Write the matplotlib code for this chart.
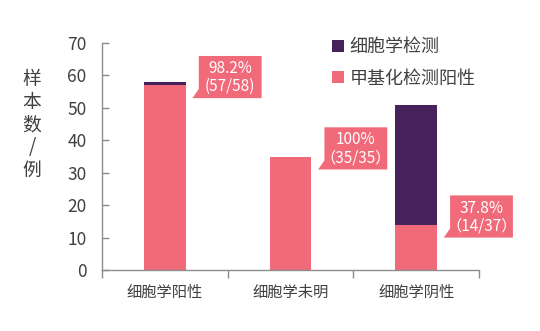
import matplotlib
matplotlib.use("Agg")
import matplotlib.pyplot as plt
from matplotlib.patches import Polygon

plt.rcParams['font.family'] = ['Noto Sans CJK SC', 'DejaVu Sans']
plt.rcParams['font.weight'] = 'light'

categories = ['细胞学阳性', '细胞学未明', '细胞学阴性']
methylation_pos = [57, 35, 14]
cytology = [1, 0, 37]
rate_labels = ['98.2%', '100%', '37.8%']
count_labels = ['(57/58)', '（35/35）', '（14/37）']
y_ticks = [0, 10, 20, 30, 40, 50, 60, 70]

PINK = '#F16A7A'
PURPLE = '#46215A'
TEXT = '#404040'
AXIS = '#8C8C8C'

fig = plt.figure(figsize=(5.4, 3.31), dpi=100)
ax = fig.add_axes([102 / 540, 1 - 270 / 331, 377 / 540, 227 / 331])

x = list(range(len(categories)))
bw = 0.33
b_pink = ax.bar(x, methylation_pos, width=bw, color=PINK, label='甲基化检测阳性', zorder=2)
b_dark = ax.bar(x, cytology, width=bw, bottom=methylation_pos, color=PURPLE,
                label='细胞学检测', zorder=2)

ax.set_xlim(-0.5, len(categories) - 0.5)
ax.set_ylim(0, 70)
ax.set_yticks(y_ticks)
ax.set_xticks([i - 0.5 for i in range(len(categories) + 1)])
ax.set_xticklabels([])
ax.set_xticks(x, minor=True)
ax.set_xticklabels(categories, minor=True, fontsize=11, color=TEXT)
ax.tick_params(axis='x', which='major', direction='out', length=6, color=AXIS, width=1)
ax.tick_params(axis='x', which='minor', length=0, pad=10)
ax.tick_params(axis='y', direction='in', length=5, color=AXIS, width=1, pad=11,
               labelsize=12.5, labelcolor=TEXT)
for s in ('top', 'right'):
    ax.spines[s].set_visible(False)
for s in ('left', 'bottom'):
    ax.spines[s].set_color(AXIS)
    ax.spines[s].set_linewidth(1)

# callout boxes with a small tail at the lower-left corner
box_w, box_h, tail_dx, tail_dy = 0.5, 13.0, 0.05, 2.8
for i, (v, r, c) in enumerate(zip(methylation_pos, rate_labels, count_labels)):
    left = i + 0.27
    bottom = v - 4.0
    poly = Polygon([(left, bottom + box_h), (left + box_w, bottom + box_h),
                    (left + box_w, bottom), (left - tail_dx, bottom),
                    (left, bottom + tail_dy)],
                   closed=True, facecolor=PINK, edgecolor='none', clip_on=False, zorder=3)
    ax.add_patch(poly)
    cx = left + box_w / 2
    ax.text(cx, bottom + box_h * 0.7, r, ha='center', va='center', color='white',
            fontsize=11, zorder=4, clip_on=False)
    ax.text(cx, bottom + box_h * 0.27, c, ha='center', va='center', color='white',
            fontsize=11, zorder=4, clip_on=False)

fig.text(32 / 540, 1 - 125 / 331, '样\n本\n数\n/\n例', ha='center', va='center',
         fontsize=13.5, color=TEXT, linespacing=1.1)

fig.legend(handles=[b_dark, b_pink], loc='upper left',
           bbox_to_anchor=(316 / 540, 1 - 22 / 331), frameon=False, fontsize=13,
           handlelength=0.65, handleheight=0.65, handletextpad=0.3, labelspacing=0.75,
           labelcolor=TEXT)

fig.savefig('out.png', dpi=100)
